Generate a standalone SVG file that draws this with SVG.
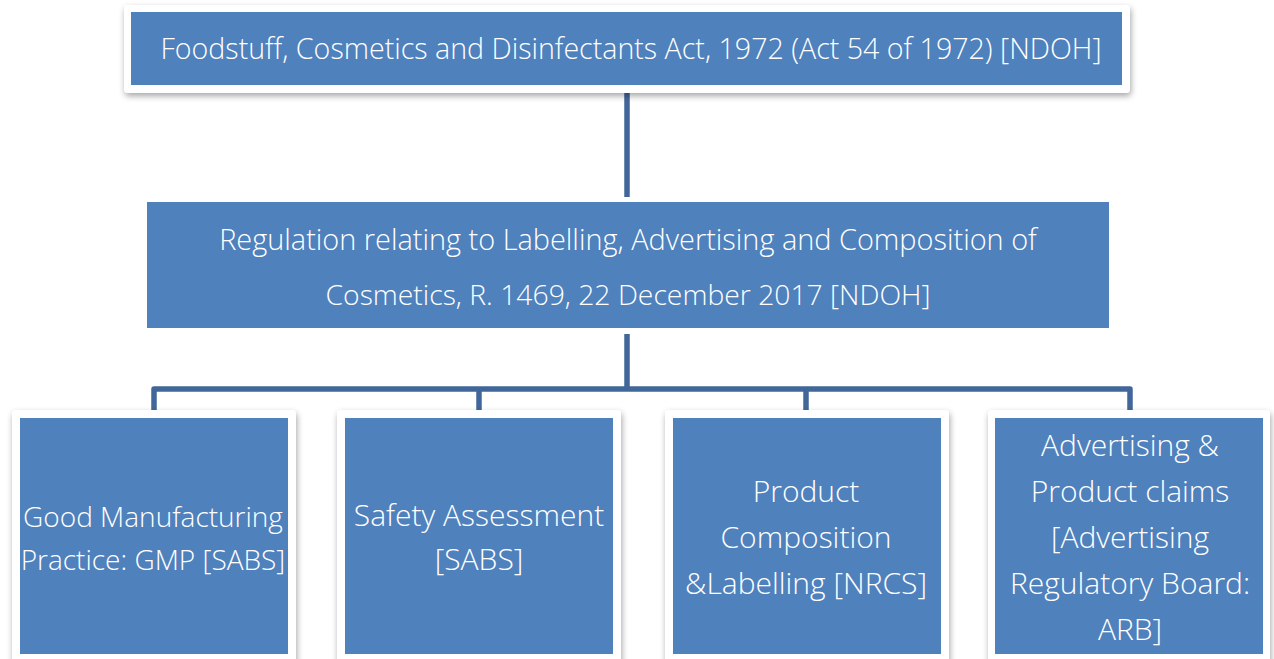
<svg xmlns="http://www.w3.org/2000/svg" width="1274" height="659" viewBox="0 0 1274 659">
<style>
.card{fill:#ffffff;filter:url(#sh)}
.box{fill:#4F81BD}
.t{font-family:"Open Sans","Noto Sans",sans-serif;font-weight:300;fill:#ffffff;text-anchor:middle}
.conn{fill:none;stroke:#41679A;stroke-width:5.5;stroke-linejoin:round}
</style>
<defs>
<filter id="sh" x="-10%" y="-10%" width="120%" height="130%">
<feDropShadow dx="1" dy="3" stdDeviation="3" flood-color="#000" flood-opacity="0.35"/>
</filter>
</defs>
<rect width="1274" height="659" fill="#ffffff"/>
<g id="connectors">
<line class="conn" x1="627" y1="92" x2="627" y2="197"/>
<line class="conn" x1="627" y1="334" x2="627" y2="389"/>
<path class="conn" d="M154 410 V389 H1130 V410"/>
<line class="conn" x1="479" y1="389" x2="479" y2="410"/>
<line class="conn" x1="806" y1="389" x2="806" y2="410"/>
</g>
<g id="act">
<rect class="card" x="124" y="5" width="1006" height="88" rx="4"/>
<rect class="box" x="131" y="12" width="991" height="73"/>
<text class="t" x="631" y="59" font-size="28.6">Foodstuff, Cosmetics and Disinfectants Act, 1972 (Act 54 of 1972) [NDOH]</text>
</g>
<g id="regulation">
<rect class="box" x="147" y="202" width="962" height="126"/>
<text class="t" x="628" y="250" font-size="28.9">Regulation relating to Labelling, Advertising and Composition of</text>
<text class="t" x="628" y="305" font-size="28.3">Cosmetics, R. 1469, 22 December 2017 [NDOH]</text>
</g>
<g id="gmp">
<rect class="card" x="12" y="410" width="284" height="260" rx="4"/>
<rect class="box" x="20" y="418" width="268" height="236"/>
<text class="t" x="153" y="527" font-size="28">Good Manufacturing</text>
<text class="t" x="153" y="570" font-size="28">Practice: GMP [SABS]</text>
</g>
<g id="safety">
<rect class="card" x="337" y="410" width="284" height="260" rx="4"/>
<rect class="box" x="345" y="418" width="268" height="236"/>
<text class="t" x="479" y="526" font-size="30">Safety Assessment</text>
<text class="t" x="479" y="570" font-size="30">[SABS]</text>
</g>
<g id="composition">
<rect class="card" x="665" y="410" width="284" height="260" rx="4"/>
<rect class="box" x="673" y="418" width="268" height="236"/>
<text class="t" x="806" y="502" font-size="30">Product</text>
<text class="t" x="806" y="548" font-size="30">Composition</text>
<text class="t" x="806" y="594" font-size="30">&amp;Labelling [NRCS]</text>
</g>
<g id="advertising">
<rect class="card" x="988" y="410" width="282" height="260" rx="4"/>
<rect class="box" x="995" y="418" width="268" height="236"/>
<text class="t" x="1130" y="456" font-size="30">Advertising &amp;</text>
<text class="t" x="1130" y="502" font-size="30">Product claims</text>
<text class="t" x="1130" y="548" font-size="30">[Advertising</text>
<text class="t" x="1130" y="594" font-size="30">Regulatory Board:</text>
<text class="t" x="1130" y="640" font-size="30">ARB]</text>
</g>
</svg>
